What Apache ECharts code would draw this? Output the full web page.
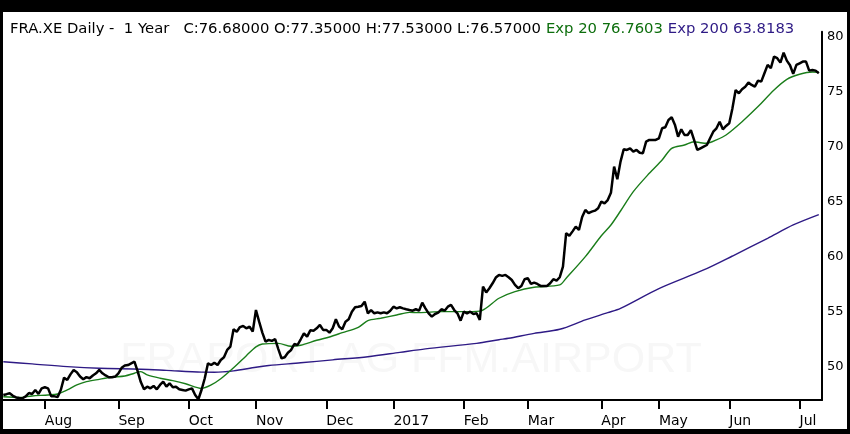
<!DOCTYPE html>
<html>
<head>
<meta charset="utf-8">
<title>FRA.XE Daily - 1 Year</title>
<script src="https://cdn.jsdelivr.net/npm/echarts@6/dist/echarts.min.js"></script>
<style>
  body { margin: 0; background: #000; }
  #main { position: absolute; left: 3px; top: 12px; width: 844px; height: 417px; background: #fff; }
</style>
</head>
<body>
<div id="main"></div>
<script type="text/javascript">
  // trading days, Xetra holidays left out; last one is an empty pad day
  var firstDay = '2016-07-13';
  var lastDay = '2017-07-12';
  var holidays = ['2016-12-26', '2017-04-14', '2017-04-17', '2017-05-01'];
  var monthNames = ['Jan', 'Feb', 'Mar', 'Apr', 'May', 'Jun', 'Jul', 'Aug', 'Sep', 'Oct', 'Nov', 'Dec'];

  // daily close
  var closes = [
    47.43, 47.5, 47.58, 47.35, 47.2, 47.15, 47.13, 47.3, 47.6, 47.52,
    47.88, 47.52, 48.03, 48.13, 48.03, 47.3, 47.3, 47.25, 47.9, 49.0,
    48.79, 49.3, 49.7, 49.5, 49.1, 48.85, 49.05, 48.95, 49.2, 49.4,
    49.7, 49.4, 49.2, 49.04, 49.04, 49.1, 49.4, 49.9, 50.1, 50.15,
    50.3, 50.45, 49.6, 48.6, 47.95, 48.18, 48.03, 48.25, 47.94, 48.34,
    48.64, 48.18, 48.49, 48.13, 48.18, 47.94, 47.88, 47.82, 47.94, 48.03,
    47.43, 47.04, 47.9, 48.95, 50.31, 50.15, 50.36, 50.15, 50.61, 50.85,
    51.52, 51.82, 53.4, 53.18, 53.6, 53.7, 53.49, 53.64, 53.18, 55.15,
    54.09, 53.1, 52.27, 52.43, 52.34, 52.5, 51.6, 50.76, 50.85, 51.27,
    51.52, 52.06, 51.97, 52.49, 53.03, 52.73, 53.3, 53.27, 53.49, 53.79,
    53.34, 53.34, 53.09, 53.49, 54.31, 53.64, 53.4, 54.09, 54.31, 55.0,
    55.4, 55.45, 55.52, 55.91, 54.85, 55.15, 54.85, 54.94, 54.85, 54.94,
    54.85, 55.09, 55.45, 55.3, 55.4, 55.3, 55.22, 55.15, 55.09, 55.22,
    55.09, 55.82, 55.3, 54.85, 54.55, 54.79, 54.91, 55.22, 55.09, 55.45,
    55.61, 55.15, 54.85, 54.18, 55.0, 54.85, 55.0, 54.79, 54.85, 54.25,
    57.27, 56.75, 57.13, 57.58, 58.1, 58.34, 58.25, 58.34, 58.13, 57.88,
    57.43, 57.13, 57.34, 57.95, 58.04, 57.52, 57.64, 57.52, 57.34, 57.34,
    57.34, 57.58, 57.95, 57.82, 58.13, 59.09, 62.13, 61.9, 62.3, 62.73,
    62.43, 63.6, 64.25, 63.95, 64.09, 64.18, 64.4, 65.0, 64.85, 65.15,
    65.8, 68.18, 67.04, 68.64, 69.76, 69.7, 69.85, 69.55, 69.7, 69.45,
    69.4, 70.45, 70.61, 70.61, 70.61, 70.76, 71.67, 71.76, 72.43, 72.67,
    72.0, 70.91, 71.58, 71.06, 71.06, 71.5, 70.61, 69.7, 69.85, 70.0,
    70.15, 70.76, 71.36, 71.67, 72.27, 71.58, 71.88, 72.12, 73.5, 75.15,
    74.85, 75.22, 75.45, 75.82, 75.61, 75.45, 76.0, 75.91, 76.67, 77.43,
    77.13, 78.18, 78.04, 77.64, 78.55, 77.82, 77.4, 76.61, 77.43, 77.58,
    77.73, 77.73, 76.91, 76.97, 76.91, 76.68
  ];

  // exponential averages at sample days
  var ema20 = [
    ['2016-07-13', 47.27], ['2016-07-20', 47.2], ['2016-07-26', 47.34], ['2016-08-02', 47.43],
    ['2016-08-05', 47.52], ['2016-08-10', 47.88], ['2016-08-15', 48.34], ['2016-08-18', 48.64],
    ['2016-08-24', 48.85], ['2016-08-30', 49.04], ['2016-09-05', 49.15], ['2016-09-08', 49.4],
    ['2016-09-12', 49.55], ['2016-09-14', 49.25], ['2016-09-20', 48.95], ['2016-09-26', 48.73],
    ['2016-09-30', 48.45], ['2016-10-07', 48.03], ['2016-10-12', 48.34], ['2016-10-17', 48.9],
    ['2016-10-21', 49.9], ['2016-10-27', 51.0], ['2016-11-01', 51.8], ['2016-11-03', 52.06],
    ['2016-11-10', 52.12], ['2016-11-16', 51.85], ['2016-11-21', 51.95], ['2016-11-28', 52.4],
    ['2016-12-02', 52.7], ['2016-12-08', 53.09], ['2016-12-15', 53.58], ['2016-12-20', 54.18],
    ['2016-12-27', 54.4], ['2017-01-03', 54.7], ['2017-01-09', 54.94], ['2017-01-12', 54.91],
    ['2017-01-23', 55.0], ['2017-01-31', 55.0], ['2017-02-08', 55.05], ['2017-02-16', 56.22],
    ['2017-02-23', 56.82], ['2017-03-03', 57.22], ['2017-03-15', 57.43], ['2017-03-17', 58.04],
    ['2017-03-27', 60.0], ['2017-04-03', 61.9], ['2017-04-06', 62.88], ['2017-04-11', 64.15],
    ['2017-04-19', 65.91], ['2017-04-26', 67.58], ['2017-05-03', 68.79], ['2017-05-08', 69.85],
    ['2017-05-12', 70.15], ['2017-05-17', 70.45], ['2017-05-19', 70.36], ['2017-05-23', 70.31],
    ['2017-05-26', 70.61], ['2017-05-31', 71.06], ['2017-06-07', 72.27], ['2017-06-14', 73.64],
    ['2017-06-21', 75.15], ['2017-06-27', 76.12], ['2017-07-03', 76.58], ['2017-07-07', 76.79],
    ['2017-07-11', 76.76]
  ];

  var ema200 = [
    ['2016-07-13', 50.45], ['2016-07-26', 50.25], ['2016-08-10', 50.0], ['2016-08-24', 49.85],
    ['2016-09-12', 49.77], ['2016-09-22', 49.66], ['2016-10-07', 49.5], ['2016-10-13', 49.49],
    ['2016-10-21', 49.62], ['2016-11-01', 49.95], ['2016-11-07', 50.1], ['2016-11-21', 50.35],
    ['2016-12-05', 50.62], ['2016-12-20', 50.9], ['2017-01-04', 51.3], ['2017-01-16', 51.62],
    ['2017-02-07', 52.12], ['2017-02-16', 52.45], ['2017-02-21', 52.58], ['2017-03-03', 53.03],
    ['2017-03-15', 53.4], ['2017-03-27', 54.25], ['2017-04-05', 54.91], ['2017-04-11', 55.3],
    ['2017-05-02', 57.1], ['2017-05-22', 58.79], ['2017-06-02', 60.06], ['2017-06-19', 61.67],
    ['2017-06-29', 62.88], ['2017-07-11', 63.82]
  ];

  var headText = 'FRA.XE Daily -  1 Year   C:76.68000 O:77.35000 H:77.53000 L:76.57000';
  var ema20Text = 'Exp 20 76.7603';
  var ema200Text = 'Exp 200 63.8183';
  var watermark = 'FRAPORT AG FFM.AIRPORT';

  var dates = [];
  var d = new Date(firstDay + 'T00:00:00Z');
  var end = new Date(lastDay + 'T00:00:00Z');
  while (d <= end) {
    var s = d.toISOString().slice(0, 10);
    var wd = d.getUTCDay();
    if (wd !== 0 && wd !== 6 && holidays.indexOf(s) < 0) dates.push(s);
    d.setUTCDate(d.getUTCDate() + 1);
  }

  function monthStart(index, value) {
    return index > 0 && dates[index - 1].slice(5, 7) !== value.slice(5, 7);
  }

  var myChart = echarts.init(document.getElementById('main'));

  var headFont = { fontSize: 14.8, fontFamily: 'DejaVu Sans', fontWeight: 'normal', lineHeight: 18 };

  var option = {
    animation: false,
    title: {
      left: 2,
      top: 3,
      text: '{k|' + headText + '} {g|' + ema20Text + '} {p|' + ema200Text + '}',
      textStyle: {
        fontWeight: 'normal',
        rich: {
          k: Object.assign({ color: '#000' }, headFont),
          g: Object.assign({ color: '#0d6e0d' }, headFont),
          p: Object.assign({ color: '#2e1a85' }, headFont)
        }
      }
    },
    graphic: [{
      type: 'text',
      z: -10,
      x: 408,
      y: 348,
      silent: true,
      style: {
        text: watermark,
        align: 'center',
        verticalAlign: 'middle',
        fontSize: 43,
        fontFamily: 'Liberation Sans',
        fill: '#f7f7f7'
      }
    }],
    grid: { left: 0.3, right: 25, top: 19.7, bottom: 29 },
    xAxis: {
      type: 'category',
      data: dates,
      boundaryGap: false,
      axisLine: { lineStyle: { color: '#000', width: 2 } },
      axisTick: { interval: monthStart, length: 9, lineStyle: { color: '#000', width: 2 } },
      axisLabel: {
        interval: monthStart,
        align: 'left',
        margin: 14,
        color: '#000',
        fontSize: 14,
        fontFamily: 'DejaVu Sans',
        formatter: function (v) {
          var m = +v.slice(5, 7);
          return m === 1 ? v.slice(0, 4) : monthNames[m - 1];
        }
      },
      splitLine: { show: false }
    },
    yAxis: {
      type: 'value',
      position: 'right',
      min: 46.97,
      max: 80.45,
      splitNumber: 6,
      axisLine: { show: true, lineStyle: { color: '#000', width: 2 } },
      axisTick: { show: false },
      splitLine: { show: false },
      axisLabel: {
        margin: 5,
        color: '#000',
        fontSize: 13,
        fontFamily: 'DejaVu Sans',
        formatter: function (v) {
          return Math.abs(v - Math.round(v / 5) * 5) < 1e-6 ? String(Math.round(v)) : '';
        }
      }
    },
    series: [
      {
        name: 'Exp 200',
        type: 'line',
        data: ema200,
        showSymbol: false,
        smooth: 0.3,
        z: 1,
        lineStyle: { color: '#2e1a85', width: 1.4 }
      },
      {
        name: 'Exp 20',
        type: 'line',
        data: ema20,
        showSymbol: false,
        smooth: 0.3,
        z: 2,
        lineStyle: { color: '#1a7d1a', width: 1.4 }
      },
      {
        name: 'FRA.XE',
        type: 'line',
        data: closes,
        showSymbol: false,
        z: 3,
        lineStyle: { color: '#000', width: 2.5 }
      }
    ]
  };

  myChart.setOption(option);
</script>
</body>
</html>
